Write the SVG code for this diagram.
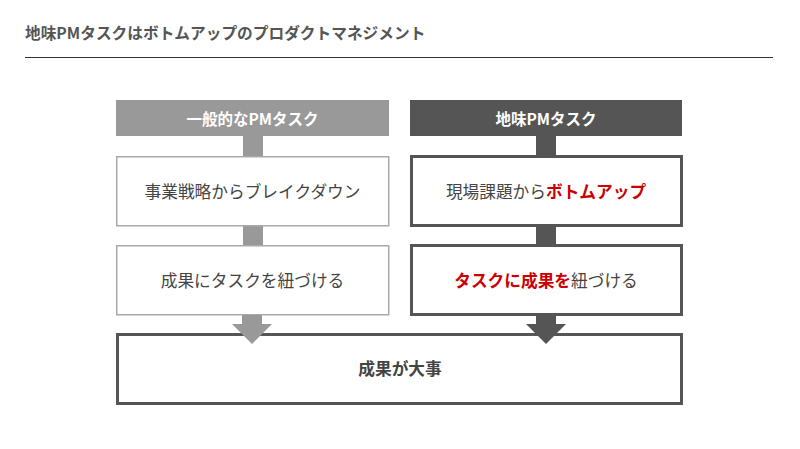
<svg xmlns="http://www.w3.org/2000/svg" width="800" height="449" viewBox="0 0 800 449">
<style>
text{font-family:"Noto Sans CJK JP","Noto Sans",sans-serif;text-anchor:middle;dominant-baseline:central}
.title{font-size:15.7px;font-weight:700;fill:#555;text-anchor:start}
.hd{font-size:15.5px;font-weight:700;fill:#fff}
.bx{font-size:16.7px;font-weight:400;fill:#444}
.red{fill:#cc0000;font-weight:700}
.lbox{fill:#fff;stroke:#aaa;stroke-width:1.5}
.dbox{fill:#fff;stroke:#555;stroke-width:3}
.lfill{fill:#999}
.dfill{fill:#555}
</style>
<rect width="800" height="449" fill="#fff"/>
<text class="title" x="25" y="32">地味PMタスクはボトムアップのプロダクトマネジメント</text>
<line x1="25" y1="57.5" x2="773" y2="57.5" stroke="#333" stroke-width="1"/>
<g id="connectors">
<rect class="lfill" x="243" y="136" width="20" height="20"/>
<rect class="lfill" x="243" y="226" width="20" height="19"/>
<rect class="dfill" x="536" y="136" width="20" height="20"/>
<rect class="dfill" x="536" y="226" width="20" height="19"/>
</g>
<g id="header-left"><rect class="lfill" x="116" y="100" width="273" height="36"/><text class="hd" x="252.5" y="118">一般的なPMタスク</text></g>
<g id="header-right"><rect class="dfill" x="410" y="100" width="272" height="36"/><text class="hd" x="546" y="118">地味PMタスク</text></g>
<g id="left-1"><rect class="lbox" x="116.75" y="156.75" width="272" height="69"/><text class="bx" x="252.5" y="190.5">事業戦略からブレイクダウン</text></g>
<g id="left-2"><rect class="lbox" x="116.75" y="245.75" width="272" height="69"/><text class="bx" x="252.5" y="280">成果にタスクを紐づける</text></g>
<g id="right-1"><rect class="dbox" x="411.5" y="156.5" width="270" height="69"/><text class="bx" x="546" y="190.5">現場課題から<tspan class="red">ボトムアップ</tspan></text></g>
<g id="right-2"><rect class="dbox" x="411.5" y="245.5" width="270" height="69"/><text class="bx" x="546" y="280"><tspan class="red">タスクに成果を</tspan>紐づける</text></g>
<g id="bottom"><rect class="dbox" x="117.5" y="334.5" width="564" height="69"/><text class="bx" x="400" y="368" style="font-weight:700">成果が大事</text></g>
<g id="arrows">
<polygon class="lfill" points="242,315 262,315 262,324 272,324 252,344 232,324 242,324"/>
<polygon class="dfill" points="536,315 556,315 556,324 566,324 546,344 526,324 536,324"/>
</g>
</svg>
